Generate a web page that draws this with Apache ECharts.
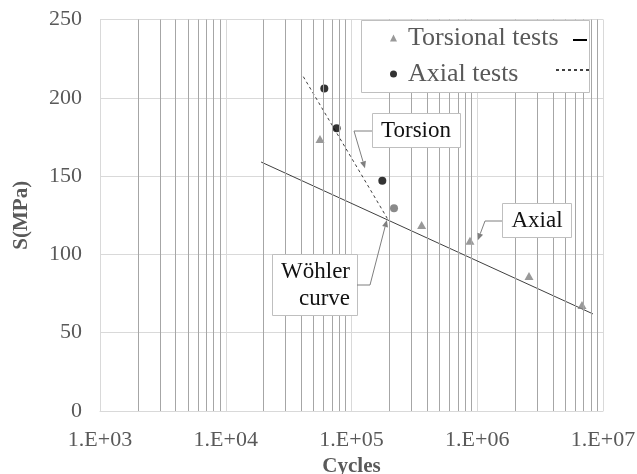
<!DOCTYPE html>
<html>
<head>
<meta charset="utf-8">
<script src="https://cdn.jsdelivr.net/npm/echarts@6/dist/echarts.min.js"></script>
<style>
  html, body { margin: 0; padding: 0; background: #fff; }
  #main { width: 637px; height: 474px; }
</style>
</head>
<body>
<div id="main"></div>
<script>
// data
const torsionN = [56200, 361000, 875000, 2580000, 6810000];
const torsionS = [173.7, 118.8, 108.7, 86.2, 67.7];
const axialN = [60800, 76200, 175800, 217800];
const axialS = [206, 180.5, 147, 129.4];
const wohlerN = [19100, 8320000];
const wohlerS = [159, 62];
const axialFitN = [41400, 192600];
const axialFitS = [213.5, 123];
const xTickLabels = ['1.E+03', '1.E+04', '1.E+05', '1.E+06', '1.E+07'];
const yTicks = [0, 50, 100, 150, 200, 250];

const FONT = "'Liberation Serif', 'Times New Roman', serif";
const GREY_TXT = '#595959';

// minor log gridlines (2..9 x 10^n)
const minorGrid = [];
for (let d = 3; d < 7; d++) {
  for (let m = 2; m <= 9; m++) minorGrid.push(m * Math.pow(10, d));
}

const chart = echarts.init(document.getElementById('main'));

// legend entries for the two fitted lines: line only, no symbol
const lineLegend = {
  selectedMode: false, z: 20, padding: 0,
  itemHeight: 14,
  formatter: () => '',
  itemStyle: { color: 'transparent', borderWidth: 0, opacity: 0 }
};

const option = {
  animation: false,
  backgroundColor: '#fff',
  grid: { left: 100, right: 34, top: 19.5, bottom: 63, outerBoundsMode: 'none' },
  xAxis: {
    type: 'log',
    logBase: 10,
    min: 1000,
    max: 10000000,
    name: 'Cycles',
    nameLocation: 'middle',
    nameGap: 41,
    nameTextStyle: { fontFamily: FONT, fontWeight: 'bold', fontSize: 21, color: GREY_TXT },
    axisLine: { show: true, lineStyle: { color: '#d9d9d9' } },
    axisTick: { show: false },
    axisLabel: {
      fontFamily: FONT, fontSize: 22, color: GREY_TXT, margin: 18,
      formatter: v => xTickLabels[Math.round(Math.log10(v)) - 3] || ''
    },
    splitLine: { show: true, lineStyle: { color: '#d9d9d9' } }
  },
  yAxis: {
    type: 'value',
    min: yTicks[0],
    max: yTicks[yTicks.length - 1],
    interval: 50,
    name: 'S(MPa)',
    nameLocation: 'middle',
    nameGap: 68,
    nameTextStyle: { fontFamily: FONT, fontWeight: 'bold', fontSize: 21, color: GREY_TXT },
    axisLine: { show: true, lineStyle: { color: '#d9d9d9' } },
    axisTick: { show: false },
    axisLabel: { fontFamily: FONT, fontSize: 22, color: GREY_TXT, margin: 18 },
    splitLine: { show: true, lineStyle: { color: '#d9d9d9' } }
  },
  legend: [
    {
      data: ['Torsional tests', 'Axial tests'],
      orient: 'vertical',
      left: 390, top: 25, padding: 0,
      itemWidth: 7, itemHeight: 7, itemGap: 10,
      selectedMode: false, z: 20,
      textStyle: { fontFamily: FONT, fontSize: 26, color: GREY_TXT, padding: [0, 0, 0, 6] }
    },
    Object.assign({}, lineLegend, {
      data: ['Wöhler curve'], left: 572, top: 33, itemWidth: 14,
      lineStyle: { width: 2, color: '#000' }
    }),
    Object.assign({}, lineLegend, {
      data: ['Axial fit'], left: 555, top: 63, itemWidth: 33
    })
  ],
  series: [
    {
      name: 'minor grid',
      type: 'line',
      data: [],
      silent: true,
      z: 1,
      markLine: {
        silent: true,
        symbol: ['none', 'none'],
        label: { show: false },
        lineStyle: { color: '#a6a6a6', type: 'solid', width: 1 },
        data: minorGrid.map(v => ({ xAxis: v }))
      }
    },
    {
      name: 'Wöhler curve',
      type: 'line',
      z: 3,
      symbol: 'none',
      lineStyle: { color: '#404040', width: 1 },
      itemStyle: { color: '#000' },
      data: wohlerN.map((n, i) => [n, wohlerS[i]])
    },
    {
      name: 'Axial fit',
      type: 'line',
      z: 3,
      symbol: 'none',
      lineStyle: { color: '#404040', width: 1, type: [3, 3] },
      itemStyle: { color: '#000' },
      data: axialFitN.map((n, i) => [n, axialFitS[i]])
    },
    {
      name: 'Torsional tests',
      type: 'scatter',
      z: 4,
      symbol: 'triangle',
      symbolSize: [9, 8],
      itemStyle: { color: '#7f7f7f' },
      data: torsionN.map((n, i) => [n, torsionS[i]])
    },
    {
      name: 'Axial tests',
      type: 'scatter',
      z: 4,
      symbol: 'circle',
      symbolSize: 8,
      itemStyle: { color: '#000' },
      data: axialN.map((n, i) => i === 3
        ? { value: [n, axialS[i]], itemStyle: { color: '#6d6d6d' } }
        : [n, axialS[i]])
    }
  ]
};

chart.setOption(option);

// annotation boxes and arrows
const toPx = (n, s) => chart.convertToPixel({ xAxisIndex: 0, yAxisIndex: 0 }, [n, s]);

function arrow(points) {
  const p = points[points.length - 1];
  const q = points[points.length - 2];
  const ang = Math.atan2(p[1] - q[1], p[0] - q[0]);
  const len = 7, hw = 3;
  const bx = p[0] - len * Math.cos(ang), by = p[1] - len * Math.sin(ang);
  const nx = -Math.sin(ang) * hw, ny = Math.cos(ang) * hw;
  return [
    { type: 'polyline', z: 12, silent: true,
      shape: { points: points.slice(0, -1).concat([[bx, by]]) },
      style: { stroke: '#7f7f7f', lineWidth: 1, fill: null } },
    { type: 'polygon', z: 12, silent: true,
      shape: { points: [p, [bx + nx, by + ny], [bx - nx, by - ny]] },
      style: { fill: '#7f7f7f' } }
  ];
}

function box(x, y, w, h) {
  return { type: 'rect', z: 10, silent: true,
    shape: { x: x + 0.5, y: y + 0.5, width: w, height: h },
    style: { fill: '#fff', stroke: '#bfbfbf', lineWidth: 1 } };
}

function label(text, x, y, align) {
  return { type: 'text', z: 11, silent: true, x: x, y: y,
    style: { text: text, fontFamily: FONT, fontSize: 23, fill: '#111',
      align: align || 'center', verticalAlign: 'middle', lineHeight: 27 } };
}

const torsionTip = toPx(128000, 155);
const wohlerTip = toPx(191000, 122);
const axialTip = toPx(1010000, 109);

const elements = [
  box(361, 20, 228, 72),
  box(372, 113, 88, 34),
  label('Torsion', 416, 131),
  box(272, 254, 85, 61),
  label('Wöhler\ncurve', 350, 285, 'right'),
  box(502, 203, 69, 34),
  label('Axial', 537, 221)
]
  .concat(arrow([[372, 131], [354, 131], torsionTip]))
  .concat(arrow([[357, 285], [370, 285], wohlerTip]))
  .concat(arrow([[502, 221], [485, 221], axialTip]));

chart.setOption({ graphic: { elements: elements } });
</script>
</body>
</html>
